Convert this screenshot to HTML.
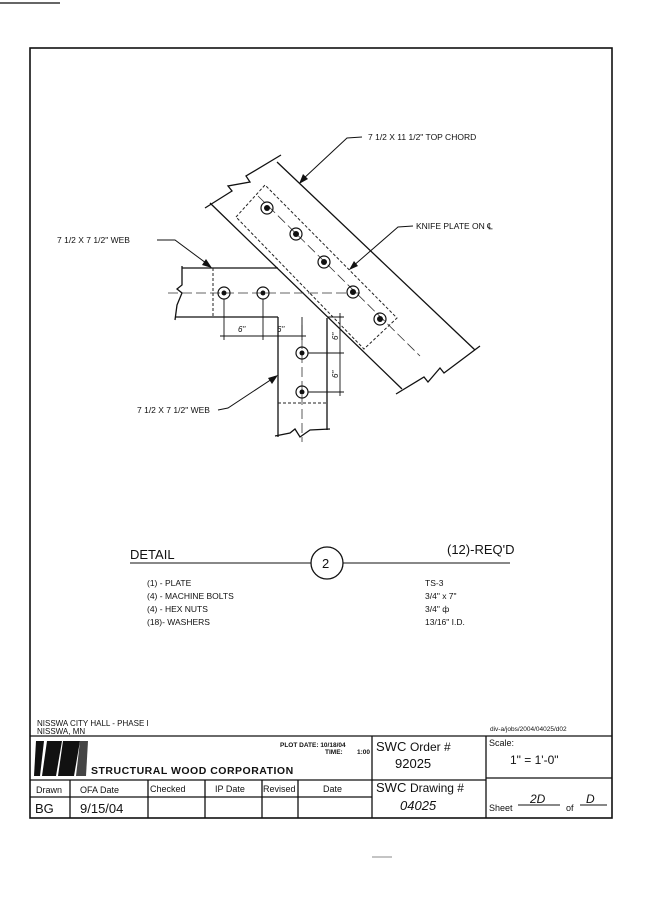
<!DOCTYPE html>
<html><head><meta charset="utf-8"><style>
html,body{margin:0;padding:0;background:#fff}
svg{display:block}
text{font-family:"Liberation Sans",sans-serif;fill:#111}
</style></head><body>
<svg width="655" height="900" viewBox="0 0 655 900" xmlns="http://www.w3.org/2000/svg">
<rect width="655" height="900" fill="#fff"/>
<line x1="0" y1="3" x2="60" y2="3" stroke="#333" stroke-width="1.5"/>
<line x1="372" y1="857" x2="392" y2="857" stroke="#888" stroke-width="1"/>
<!-- border -->
<rect x="30" y="48" width="582" height="770" fill="none" stroke="#111" stroke-width="1.6"/>
<g stroke="#111" fill="none" stroke-width="1.3">
<!-- top chord -->
<line x1="277" y1="162" x2="475" y2="350"/>
<line x1="210" y1="203" x2="402" y2="389"/>
<polyline points="205,208 232,191 228,186 250,182 246,176 281,155"/>
<polyline points="396,394 424,377 428,382 440,368 444,373 480,346"/>
<!-- horizontal web -->
<line x1="182" y1="268" x2="278" y2="268"/>
<line x1="175" y1="317" x2="278" y2="317"/>
<polyline points="182,266 182,285 177,289 182,293 177,305 175,320"/>
<!-- vertical web -->
<line x1="278" y1="317" x2="278" y2="437"/>
<line x1="327" y1="318" x2="327" y2="430"/>
<polyline points="275,436 290,433 295,429 300,437 310,430 330,429"/>
</g>
<g stroke="#222" fill="none" stroke-width="1" stroke-dasharray="3,2">
<line x1="213" y1="268" x2="213" y2="317"/>
<line x1="278" y1="403" x2="327" y2="403"/>
<polygon points="236,217 265,185 397,318 364,349"/>
</g>
<g stroke="#333" fill="none" stroke-width="0.8" stroke-dasharray="10,4">
<line x1="168" y1="293" x2="360" y2="293"/>
<line x1="302" y1="325" x2="302" y2="442"/>
<line x1="258" y1="196" x2="420" y2="356"/>
</g>
<!-- bolts -->
<g stroke="#111" fill="none" stroke-width="1.2">
<circle cx="224" cy="293" r="6"/><circle cx="263" cy="293" r="6"/>
<circle cx="302" cy="353" r="6"/><circle cx="302" cy="392" r="6"/>
<circle cx="267" cy="208" r="6"/><circle cx="296" cy="234" r="6"/>
<circle cx="324" cy="262" r="6"/><circle cx="353" cy="292" r="6"/><circle cx="380" cy="319" r="6"/>
</g>
<g fill="#111"><circle cx="224" cy="293" r="2.5"/><circle cx="263" cy="293" r="2.5"/><circle cx="302" cy="353" r="2.5"/><circle cx="302" cy="392" r="2.5"/>
<circle cx="267" cy="208" r="3"/><circle cx="296" cy="234" r="3"/><circle cx="324" cy="262" r="3"/><circle cx="353" cy="292" r="3"/><circle cx="380" cy="319" r="3"/></g>
<!-- dimensions -->
<g stroke="#111" stroke-width="0.9" fill="none">
<line x1="224" y1="299" x2="224" y2="340"/><line x1="263" y1="299" x2="263" y2="340"/><line x1="302" y1="317" x2="302" y2="340"/>
<line x1="220" y1="336" x2="306" y2="336"/>
<line x1="308" y1="353" x2="344" y2="353"/><line x1="308" y1="392" x2="344" y2="392"/><line x1="327" y1="317" x2="344" y2="317"/>
<line x1="340" y1="313" x2="340" y2="396"/>
</g>
<g font-size="8" font-style="italic">
<text x="238" y="332">6"</text><text x="277" y="332">6"</text>
<text x="338" y="340" transform="rotate(-90 338 340)">6"</text>
<text x="338" y="378" transform="rotate(-90 338 378)">6"</text>
</g>
<!-- leaders -->
<g stroke="#111" stroke-width="1" fill="none">
<polyline points="362,137 347,138 302,180"/>
<polyline points="413,226 398,227 352,267"/>
<polyline points="157,240 175,240 210,266"/>
<polyline points="218,410 228,408 275,377"/>
</g>
<g fill="#111">
<polygon points="299,184 303,174 308,179"/>
<polygon points="349,270 354,261 358,266"/>
<polygon points="212,268 202,265 206,259"/>
<polygon points="278,375 268,378 272,384"/>
</g>
<g font-size="8.5">
<text x="368" y="140">7 1/2 X 11 1/2" TOP CHORD</text>
<text x="416" y="229">KNIFE PLATE ON ℄</text>
<text x="57" y="243">7 1/2 X 7 1/2" WEB</text>
<text x="137" y="413">7 1/2 X 7 1/2" WEB</text>
</g>
<!-- detail -->
<line x1="130" y1="563" x2="311" y2="563" stroke="#111" stroke-width="1"/>
<line x1="343" y1="563" x2="510" y2="563" stroke="#111" stroke-width="1"/>
<circle cx="327" cy="563" r="16" fill="none" stroke="#111" stroke-width="1.3"/>
<text x="322" y="568" font-size="13">2</text>
<text x="130" y="559" font-size="13">DETAIL</text>
<text x="447" y="554" font-size="13">(12)-REQ'D</text>
<g font-size="8.5">
<text x="147" y="586">(1) - PLATE</text>
<text x="147" y="599">(4) - MACHINE BOLTS</text>
<text x="147" y="612">(4) - HEX NUTS</text>
<text x="147" y="625">(18)- WASHERS</text>
<text x="425" y="586">TS-3</text>
<text x="425" y="599">3/4" x 7"</text>
<text x="425" y="612">3/4" ф</text>
<text x="425" y="625">13/16" I.D.</text>
</g>
<!-- title block -->
<text x="37" y="726" font-size="8">NISSWA CITY HALL - PHASE I</text>
<text x="37" y="734" font-size="8">NISSWA, MN</text>
<text x="490" y="731" font-size="6.5" font-family="Liberation Mono">div-a/jobs/2004/04025/d02</text>
<g stroke="#111" stroke-width="1.3" fill="none">
<line x1="30" y1="736" x2="612" y2="736"/>
<line x1="30" y1="780" x2="486" y2="780"/>
<line x1="486" y1="778" x2="612" y2="778"/>
<line x1="30" y1="797" x2="372" y2="797"/>
<line x1="372" y1="736" x2="372" y2="818"/>
<line x1="486" y1="736" x2="486" y2="818"/>
<line x1="70" y1="780" x2="70" y2="818"/>
<line x1="148" y1="780" x2="148" y2="818"/>
<line x1="205" y1="780" x2="205" y2="818"/>
<line x1="262" y1="780" x2="262" y2="818"/>
<line x1="298" y1="780" x2="298" y2="818"/>
</g>
<polygon points="36,741 44,741 40,776 34,776" fill="#111"/>
<polygon points="47,741 62,741 56,776 42,776" fill="#111"/>
<polygon points="63,741 80,741 74,776 58,776" fill="#111"/>
<polygon points="80,741 88,741 86,776 76,776" fill="#444"/>
<text x="91" y="774" font-size="10.5" font-weight="bold" font-family="Liberation Sans" letter-spacing="0.5">STRUCTURAL WOOD CORPORATION</text>
<text x="280" y="747" font-size="6.5" font-weight="bold" font-family="Liberation Serif">PLOT DATE: 10/18/04</text>
<text x="325" y="754" font-size="6.5" font-weight="bold" font-family="Liberation Serif">TIME:</text>
<text x="357" y="754" font-size="6.5" font-weight="bold" font-family="Liberation Serif">1:00</text>
<text x="376" y="751" font-size="13" font-family="Liberation Serif">SWC <tspan font-family="Liberation Sans" font-size="12">Order #</tspan></text>
<text x="395" y="768" font-size="13">92025</text>
<text x="489" y="746" font-size="9">Scale:</text>
<text x="510" y="764" font-size="12">1" = 1'-0"</text>
<text x="376" y="792" font-size="13" font-family="Liberation Serif">SWC <tspan font-family="Liberation Sans" font-size="12">Drawing #</tspan></text>
<text x="400" y="810" font-size="13" font-style="italic">04025</text>
<text x="489" y="811" font-size="9">Sheet</text>
<line x1="518" y1="805" x2="560" y2="805" stroke="#111"/>
<text x="530" y="803" font-size="12" font-style="italic">2D</text>
<text x="566" y="811" font-size="9">of</text>
<line x1="580" y1="805" x2="607" y2="805" stroke="#111"/>
<text x="586" y="803" font-size="12" font-style="italic">D</text>
<g font-size="9">
<text x="36" y="793">Drawn</text><text x="80" y="793">OFA Date</text>
<text x="150" y="792">Checked</text><text x="215" y="792">IP Date</text>
<text x="263" y="792">Revised</text><text x="323" y="792">Date</text>
</g>
<text x="35" y="813" font-size="13">BG</text>
<text x="80" y="813" font-size="13">9/15/04</text>
</svg>
</body></html>
